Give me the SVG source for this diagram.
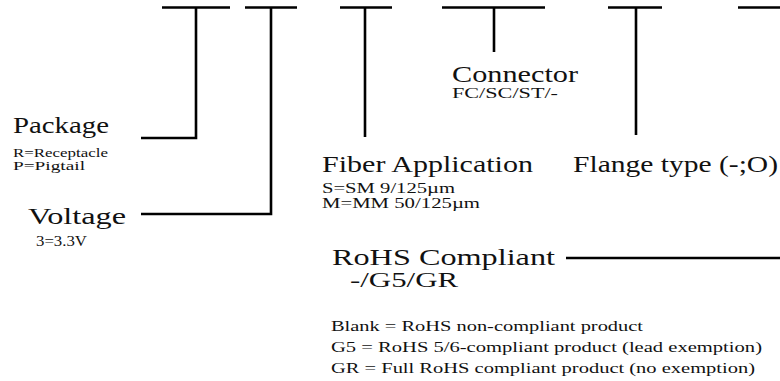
<svg xmlns="http://www.w3.org/2000/svg" width="780" height="381" viewBox="0 0 780 381">
<style>
.ln{stroke:#000;stroke-width:2.6;fill:none}
.big{font-family:"Liberation Serif","Times New Roman",serif;font-size:24px;fill:#111}
.mid{font-family:"Liberation Serif","Times New Roman",serif;font-size:20px;fill:#111}
.sm{font-family:"Liberation Serif","Times New Roman",serif;font-size:14px;fill:#111}
.xs{font-family:"Liberation Serif","Times New Roman",serif;font-size:13px;fill:#111}
</style>
<rect width="780" height="381" fill="#fff"/>
<g id="connectors">
<path class="ln" d="M162 7.5H230M196 7.5V138H141"/>
<path class="ln" d="M245 7.5H297M271 7.5V214H141"/>
<path class="ln" d="M340 7.5H392M365 7.5V137"/>
<path class="ln" d="M442 7.5H545M494 7.5V52"/>
<path class="ln" d="M608 7.5H662M636 7.5V135"/>
<path class="ln" d="M738 7.5H780"/>
<path class="ln" d="M566 258H780"/>
</g>
<g id="package">
<text class="big" x="13" y="133" textLength="96" lengthAdjust="spacingAndGlyphs">Package</text>
<text class="xs" x="13" y="157" textLength="95" lengthAdjust="spacingAndGlyphs">R=Receptacle</text>
<text class="xs" x="13" y="170" textLength="72" lengthAdjust="spacingAndGlyphs">P=Pigtail</text>
</g>
<g id="voltage">
<text class="big" x="28" y="224" textLength="98" lengthAdjust="spacingAndGlyphs">Voltage</text>
<text class="sm" x="36" y="246" textLength="51" lengthAdjust="spacingAndGlyphs">3=3.3V</text>
</g>
<g id="connector">
<text class="big" x="452" y="82" textLength="126" lengthAdjust="spacingAndGlyphs">Connector</text>
<text class="sm" x="452" y="98" textLength="106" lengthAdjust="spacingAndGlyphs">FC/SC/ST/-</text>
</g>
<g id="fiber">
<text class="big" x="322" y="172" textLength="211" lengthAdjust="spacingAndGlyphs">Fiber Application</text>
<text class="sm" x="322" y="193" textLength="133" lengthAdjust="spacingAndGlyphs">S=SM 9/125µm</text>
<text class="sm" x="322" y="208" textLength="158" lengthAdjust="spacingAndGlyphs">M=MM 50/125µm</text>
</g>
<g id="flange">
<text class="big" x="573" y="172" textLength="205" lengthAdjust="spacingAndGlyphs">Flange type (-;O)</text>
</g>
<g id="rohs">
<text class="big" x="332" y="265" textLength="223" lengthAdjust="spacingAndGlyphs">RoHS Compliant</text>
<text class="mid" x="350" y="287" textLength="108" lengthAdjust="spacingAndGlyphs">-/G5/GR</text>
<text class="sm" x="331" y="331" textLength="312" lengthAdjust="spacingAndGlyphs">Blank = RoHS non-compliant product</text>
<text class="sm" x="331" y="352" textLength="431" lengthAdjust="spacingAndGlyphs">G5 = RoHS 5/6-compliant product (lead exemption)</text>
<text class="sm" x="331" y="373" textLength="424" lengthAdjust="spacingAndGlyphs">GR = Full RoHS compliant product (no exemption)</text>
</g>
</svg>
